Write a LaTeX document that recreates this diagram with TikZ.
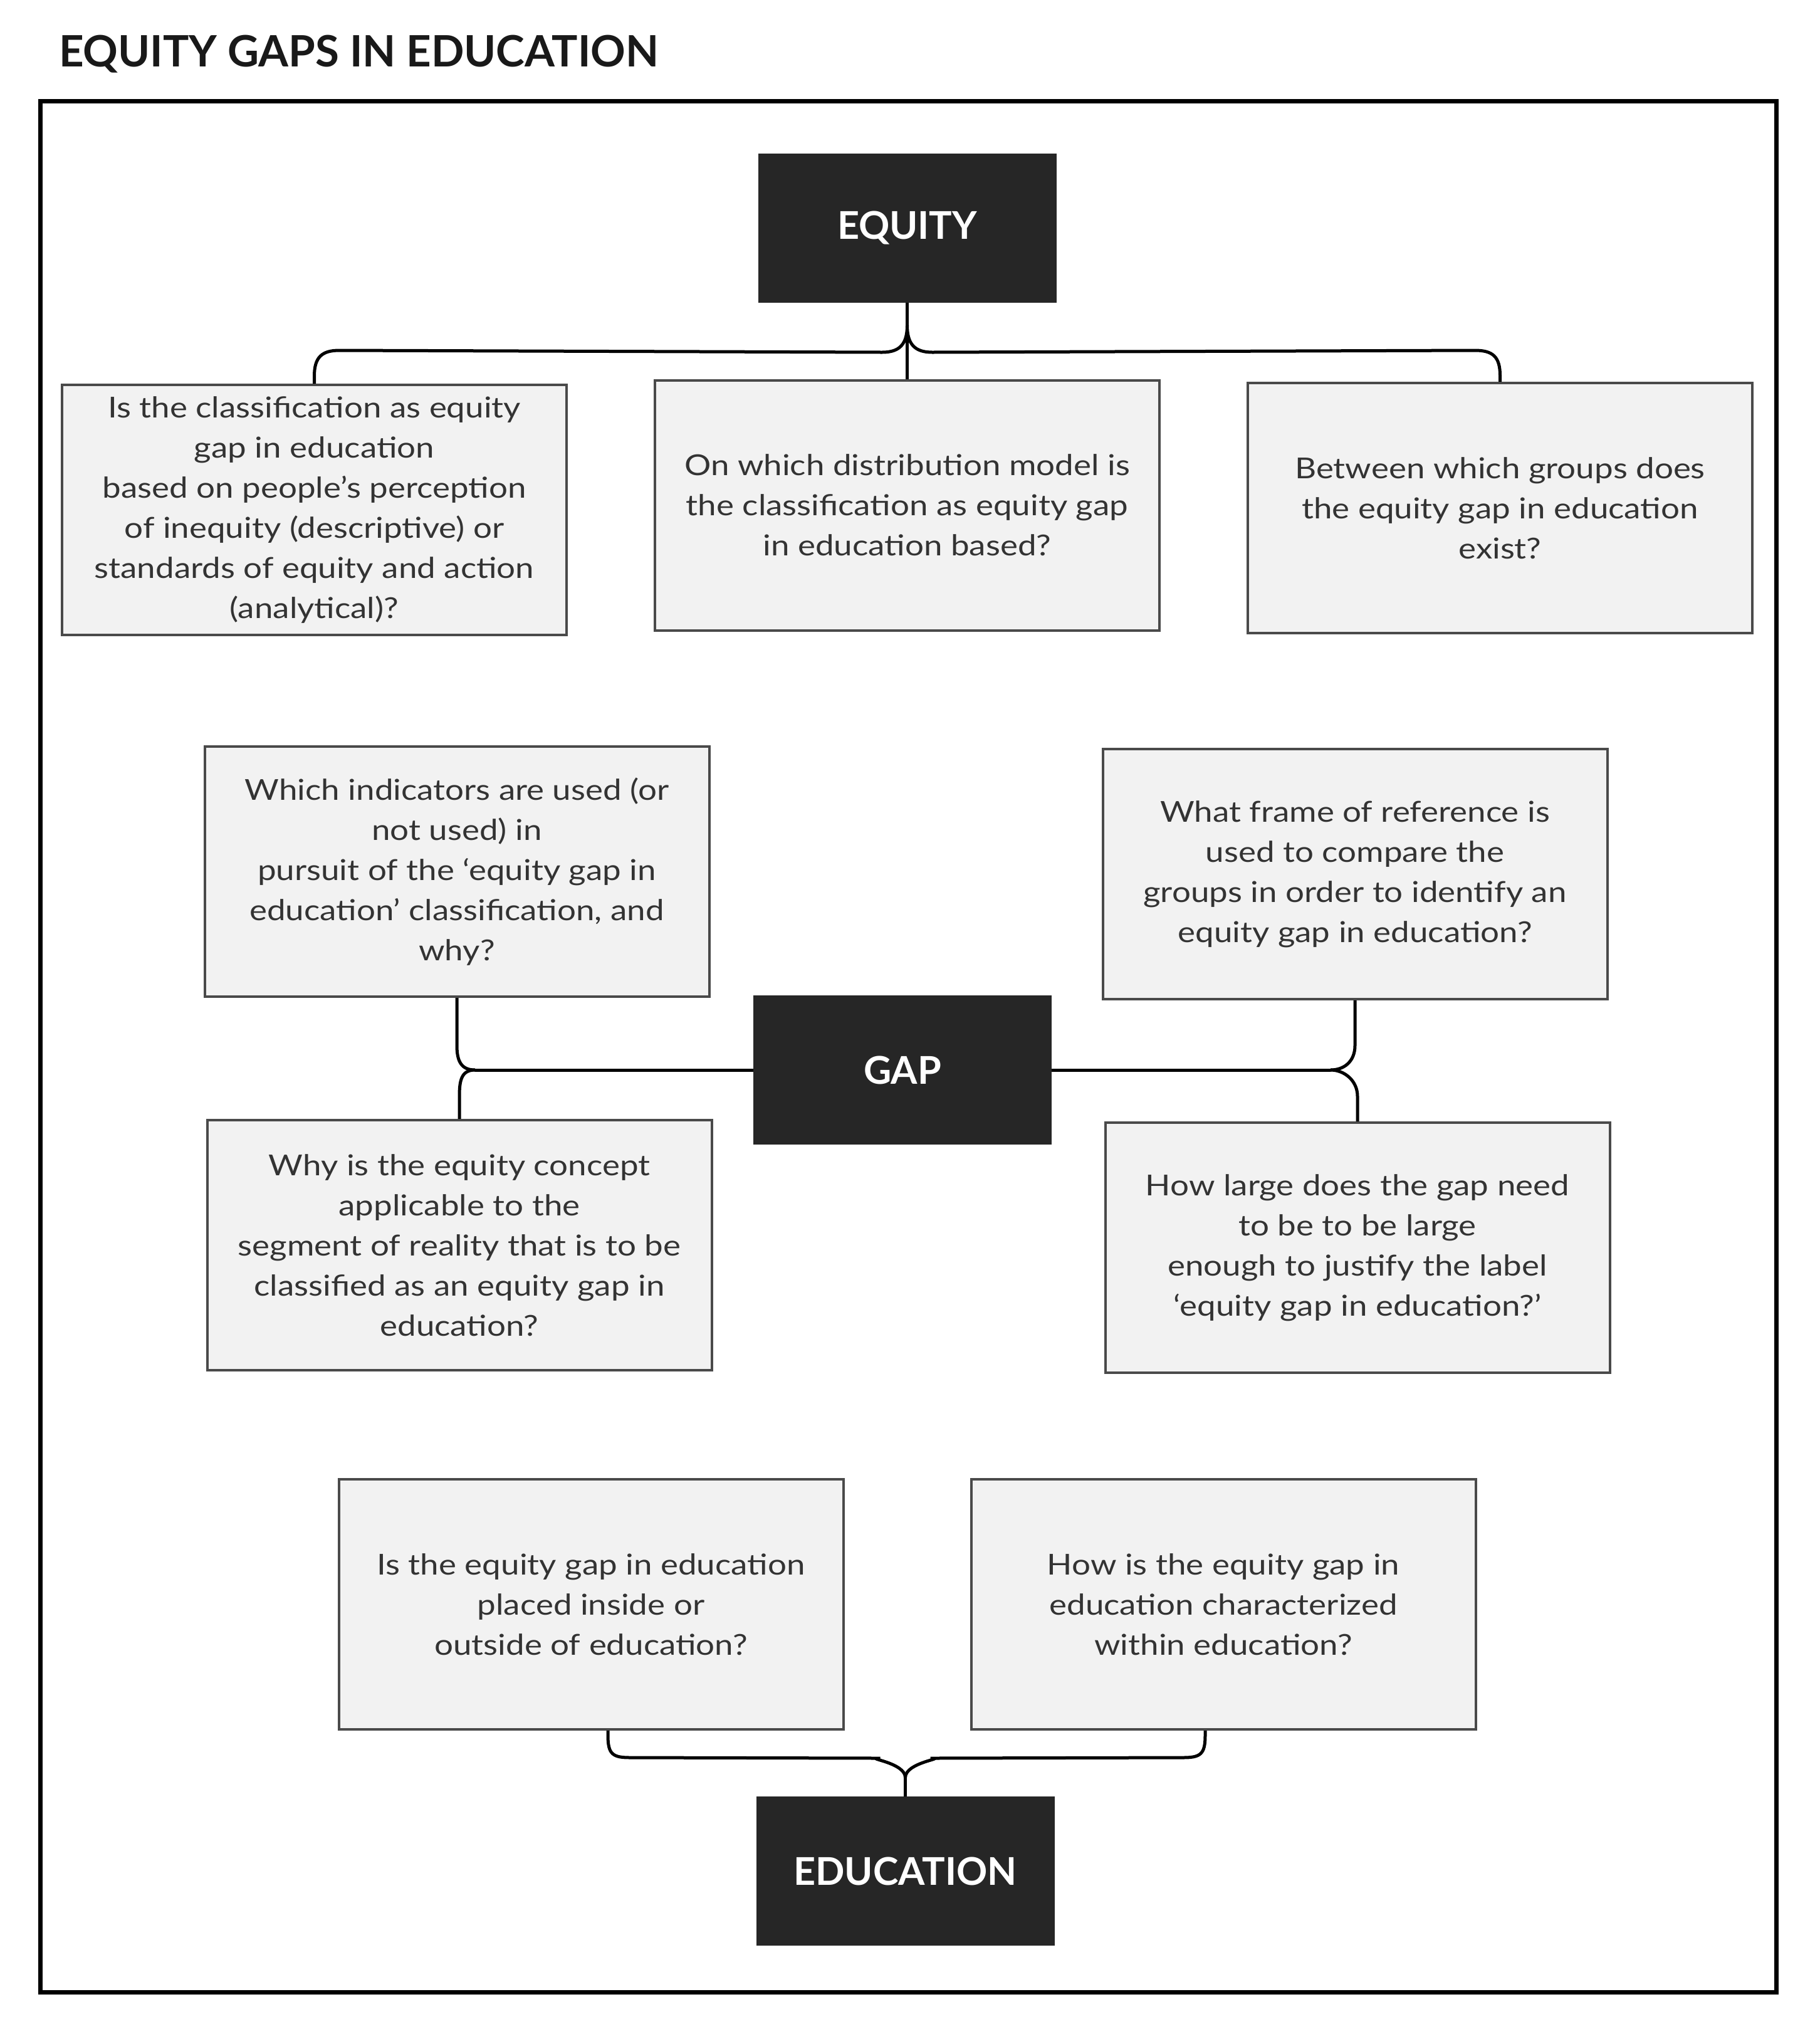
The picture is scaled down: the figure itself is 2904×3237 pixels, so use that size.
\documentclass[tikz,border=0pt]{standalone}
\usepackage{fontspec}
\setmainfont{Lato}
\newfontfamily\bodyfont[FakeStretch=1.15]{Lato}
\usetikzlibrary{calc}
\definecolor{boxfill}{HTML}{F2F2F2}
\definecolor{boxline}{HTML}{4A4A4A}
\definecolor{darkfill}{HTML}{262626}
\definecolor{txt}{HTML}{333333}
\tikzset{
  qbox/.style={draw=boxline, line width=4pt, fill=boxfill, rectangle, inner sep=0pt,
    minimum width=805pt, minimum height=399pt, align=center, text=txt,
    font=\bodyfont\fontsize{46}{64}\selectfont},
  dbox/.style={draw=darkfill, line width=2pt, fill=darkfill, rectangle, inner sep=0pt,
    minimum width=474pt, minimum height=236pt, align=center, text=white,
    font=\fontsize{61}{70}\selectfont\bfseries},
  conn/.style={draw=black, line width=5pt},
}
\begin{document}
\begin{tikzpicture}[x=1pt,y=-1pt]
\useasboundingbox (0,0) rectangle (2904,3237);
\fill[white] (0,0) rectangle (2904,3237);
% title
\node[anchor=base west, inner sep=0pt, text=black!90, font=\fontsize{69}{80}\selectfont\bfseries] (title) at (94,106) {EQUITY GAPS IN EDUCATION};
% frame
\draw[line width=7pt, black] (64,161) rectangle (2834,3178);
% dark boxes
\node[dbox] (eq) at (1447.5,364) {EQUITY};
\node[dbox] (gap) at (1440,1707) {GAP};
\node[dbox] (edu) at (1444.5,2985) {EDUCATION};
% question boxes
\node[qbox] (b1) at (501.5,813.5) {Is the classification as equity\\gap in education\\based on people’s perception\\of inequity (descriptive) or\\standards of equity and action\\(analytical)?};
\node[qbox] (b2) at (1447.5,806) {On which distribution model is\\the classification as equity gap\\in education based?};
\node[qbox] (b3) at (2393.5,810.5) {Between which groups does\\the equity gap in education\\exist?};
\node[qbox] (b4) at (729,1390.5) {Which indicators are used (or\\not used) in\\pursuit of the ‘equity gap in\\education’ classification, and\\why?};
\node[qbox] (b5) at (2162,1394.5) {What frame of reference is\\used to compare the\\groups in order to identify an\\equity gap in education?};
\node[qbox] (b6) at (733,1986.5) {Why is the equity concept\\applicable to the\\segment of reality that is to be\\classified as an equity gap in\\education?};
\node[qbox] (b7) at (2166,1990.5) {How large does the gap need\\to be to be large\\enough to justify the label\\‘equity gap in education?’};
\node[qbox] (b8) at (943,2559.5) {Is the equity gap in education\\placed inside or\\outside of education?};
\node[qbox] (b9) at (1952,2559.5) {How is the equity gap in\\education characterized\\within education?};
% EQUITY connectors
\draw[conn] (eq.south) -- (b2.north);
\coordinate (eqs) at ($(eq.south)+(0,36)$);
\draw[conn] (eqs) .. controls +(0,30) and +(28,0) .. ($(eqs)+(-40,43)$)
  -- ($(b1.north)+(40,-53)$) .. controls +(-28,0) and +(0,-30) .. ($(b1.north)+(0,-12)$) -- (b1.north);
\draw[conn] (eqs) .. controls +(0,30) and +(-28,0) .. ($(eqs)+(40,43)$)
  -- ($(b3.north)+(-40,-50)$) .. controls +(28,0) and +(0,-30) .. ($(b3.north)+(0,-10)$) -- (b3.north);
% GAP connectors
\coordinate (gl) at ($(gap.west)+(-444,0)$);
\draw[conn] (gap.west) -- (gl);
\draw[conn] (gl) .. controls +(-22,0) and +(0,25) .. ($(b4.south)+(0,76)$) -- (b4.south);
\draw[conn] (gl) .. controls +(-22,0) and +(0,-25) .. ($(b6.north)+(0,-36)$) -- (b6.north);
\coordinate (gr) at ($(gap.east)+(445,0)$);
\draw[conn] (gap.east) -- (gr);
\draw[conn] (gr) .. controls +(22,0) and +(0,25) .. ($(b5.south)+(0,72)$) -- (b5.south);
\draw[conn] (gr) .. controls +(22,0) and +(0,-25) .. ($(b7.north)+(0,-40)$) -- (b7.north);
% EDUCATION connectors
\coordinate (et) at ($(edu.north)+(0,-30)$);
\draw[conn] (edu.north) -- (et);
\draw[conn] (et) .. controls +(0,-25) and +(-28,0) .. ($(et)+(-40,-31)$)
  -- ($(b8.south)+(63,43)$) .. controls +(-28,0) and +(0,30) .. ($(b8.south)+(27,8)$) -- ($(b8.south)+(27,0)$);
\draw[conn] (et) .. controls +(0,-25) and +(28,0) .. ($(et)+(40,-31)$)
  -- ($(b9.south)+(-65,43)$) .. controls +(28,0) and +(0,30) .. ($(b9.south)+(-29,8)$) -- ($(b9.south)+(-29,0)$);
\end{tikzpicture}
\end{document}
